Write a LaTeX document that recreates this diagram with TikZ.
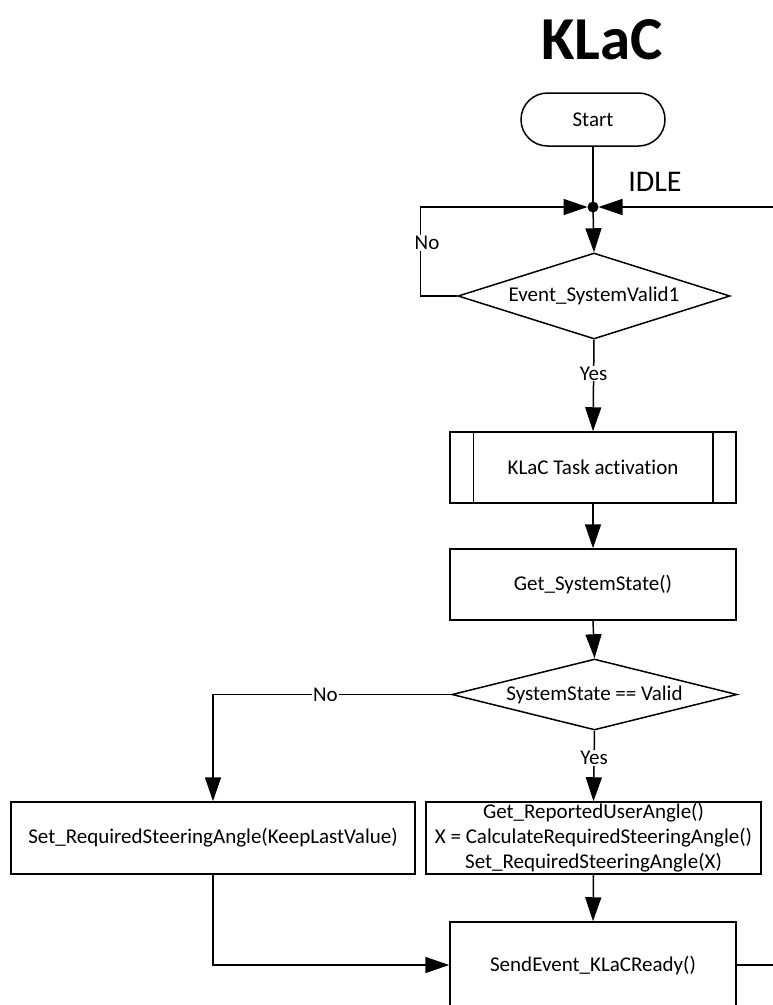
\documentclass[tikz,border=0pt]{standalone}
\usepackage{fontspec}
\setmainfont{Carlito}[Ligatures=NoCommon]
\usetikzlibrary{arrows.meta,shapes.geometric,shapes.misc}
\begin{document}
\begin{tikzpicture}[x=1pt,y=-1pt,
  conn/.style={line width=1.5pt},
  arr/.style={line width=1.5pt,-{Triangle[length=24pt,width=16pt]}},
  txt/.style={font=\fontsize{21}{25}\selectfont},
  box/.style={draw,line width=1.5pt,rectangle,inner sep=0pt,minimum width=286pt,minimum height=71pt,txt,align=center},
  dec/.style={draw,line width=1.5pt,diamond,inner sep=0pt,txt},
  term/.style={draw,line width=1.5pt,rounded rectangle,inner sep=0pt,minimum width=144pt,minimum height=53pt,txt},
  lab/.style={fill=white,inner sep=1pt,txt}]
\useasboundingbox (0,0) rectangle (773,1005);
\clip (0,0) rectangle (773,1005);
\node[font=\bfseries\fontsize{61}{61}\selectfont] (title) at (602,40) {KLaC};
\node[term] (start) at (593,119.5) {Start};
\coordinate (j) at (593,207);
\coordinate (jl) at (587.5,207);
\coordinate (jr) at (598.5,207);
\coordinate (idle) at (773,207);
\node[dec,aspect=3.16,minimum width=272pt,minimum height=86pt] (d1) at (594,296) {Event\_SystemValid1};
\node[box] (task) at (593,467.5) {KLaC Task activation};
\draw[conn] ([xshift=24pt]task.north west) -- ([xshift=24pt]task.south west);
\draw[conn] ([xshift=-24pt]task.north east) -- ([xshift=-24pt]task.south east);
\node[box] (get) at (593,584.5) {Get\_SystemState()};
\node[dec,aspect=4,minimum width=285pt,minimum height=71pt] (d2) at (594.5,694.5) {SystemState == Valid};
\node[box,minimum width=404pt,minimum height=72pt] (left) at (213,838) {Set\_RequiredSteeringAngle(KeepLastValue)};
\node[box,minimum width=335pt,minimum height=72pt] (right) at (593.5,838) {Get\_ReportedUserAngle()\\X = CalculateRequiredSteeringAngle()\\Set\_RequiredSteeringAngle(X)};
\node[box,minimum height=86pt] (send) at (593,965) {SendEvent\_KLaCReady()};
\coordinate (sendout) at (773,965);
% connectors
\draw[conn] (start.south) -- (j);
\fill (j) circle (5.5pt);
\draw[arr] (j) -- (d1.north);
\draw[arr] (d1.west) -- ++(-37,0) |- (jl);
\node[lab] (no1) at (427,243) {No};
\draw[arr] (idle) -- (jr);
\node[font=\fontsize{30}{30}\selectfont] (idlelab) at (655,182) {IDLE};
\draw[arr] (d1.south) -- (task.north) node[lab,pos=0.37] (yes1) {Yes};
\draw[arr] (task.south) -- (get.north);
\draw[arr] (get.south) -- (d2.north);
\draw[arr] (d2.west) -| (left.north) node[lab,pos=0.264] (no2) {No};
\draw[arr] (d2.south) -- (right.north) node[lab,pos=0.39] (yes2) {Yes};
\draw[arr] (right.south) -- (send.north);
\draw[arr] (left.south) |- (send.west);
\draw[conn] (send.east) -- (sendout);
\end{tikzpicture}
\end{document}
